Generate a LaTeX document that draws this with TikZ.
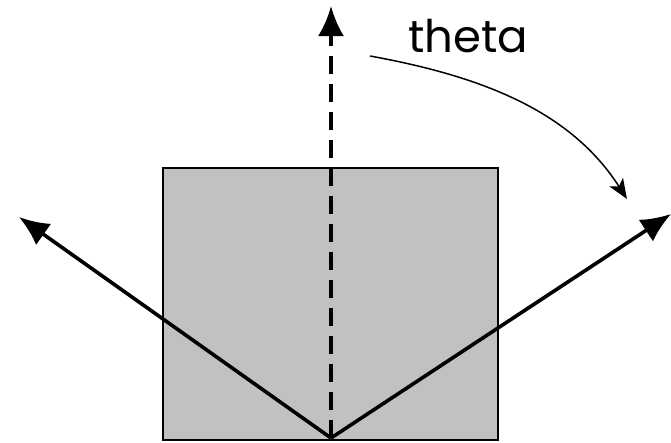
\documentclass[tikz,border=0pt]{standalone}
\usepackage{fontspec}
\setmainfont{Poppins}
\usetikzlibrary{arrows.meta}
\begin{document}
\begin{tikzpicture}[
        x=1pt, y=-1pt,
        plate/.style={draw, line width=1.8pt, fill=plategray},
        ray/.style={line width=3.6pt, -{Latex[length=30pt,width=26pt]}},
        turn/.style={line width=1.5pt, -{Stealth[length=20pt,width=16pt,inset=5pt]}}
    ]
        \definecolor{plategray}{RGB}{192,194,192}
        \useasboundingbox (0,0) rectangle (671,442);
        \filldraw[plate] (163,168) rectangle (498,440);
        \coordinate (o) at (331,438);
        \coordinate (up) at (331,6);
        \coordinate (lt) at (19,217);
        \coordinate (rt) at (671,214);
        \node[font=\fontsize{45}{50}\selectfont] (theta) at (468,36) {theta};
        \coordinate (from) at (370,56);
        \coordinate (to) at (627,199);
        \draw[ray, dash pattern=on 18pt off 10pt] (o) -- (up);
        \draw[ray] (o) -- (lt);
        \draw[ray] (o) -- (rt);
        \draw[turn] (from) .. controls (480,76) and (570,110) .. (to);
    \end{tikzpicture}
\end{document}
